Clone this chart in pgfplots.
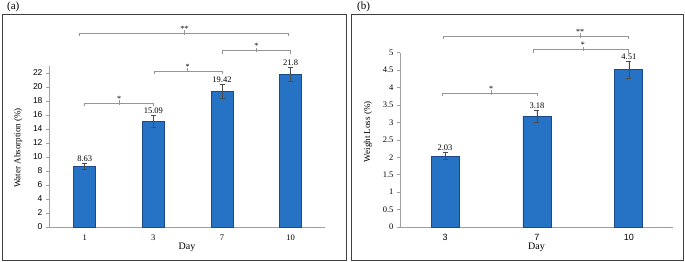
\documentclass[border=0pt]{standalone}
\usepackage{pgfplots}
\pgfplotsset{compat=1.18}
\usepackage{fontspec}
\setmainfont{Liberation Serif}
\newfontfamily\arial{Liberation Sans}
\definecolor{barblue}{RGB}{38,115,198}
\definecolor{baredge}{RGB}{28,72,140}
\definecolor{brk}{RGB}{150,150,150}
\definecolor{axgray}{RGB}{160,160,160}
\newcommand\bracket[5]{%
  \draw[brk, line width=0.6pt] ([yshift=-3pt]axis cs:#1,#3) -- (axis cs:#1,#3) -- (axis cs:#2,#3) -- ([yshift=-3pt]axis cs:#2,#3);
  \draw[brk, line width=0.6pt] ([yshift=-1.5pt]axis cs:#4,#3) -- ([yshift=3pt]axis cs:#4,#3);
  \node[anchor=south, inner sep=0pt, font=\fontsize{8}{8}\selectfont] at ([yshift=1.5pt]axis cs:#4,#3) {#5};}

\pgfplotsset{
  panel/.style={
    scale only axis,
    axis x line=bottom, axis y line=left,
    axis line style={-, draw=axgray, line width=0.7pt},
    ymin=0,
    xtick=data,
    x tick style={draw=none},
    y tick style={draw=axgray, line width=0.6pt},
    major tick length=3pt,
    tick align=outside,
    clip=false,
    /pgf/number format/assume math mode=true,
    ybar, bar shift=0pt,
    xlabel={Day},
    xlabel style={at={(axis description cs:0.5,0)}, anchor=center, yshift=-20pt, font=\fontsize{10}{11}\selectfont},
  },
  barstyle/.style={fill=barblue, draw=baredge, line width=0.8pt,
    error bars/.cd, y dir=both, y explicit,
    error bar style={black!70, line width=0.6pt},
    error mark options={rotate=90, mark size=2.5pt, black!70, line width=0.6pt}},
}

\begin{document}
\begin{tikzpicture}[x=1pt,y=1pt]
\useasboundingbox (0,0) rectangle (685,262);
\draw[line width=0.9pt, black!75] (2.5,2) rectangle (346,247.5);
\draw[line width=0.9pt, black!75] (351,2) rectangle (683,247.5);
\node[anchor=west, inner sep=0pt, font=\fontsize{11}{12}\selectfont] at (7,255.5) {(a)};
\node[anchor=west, inner sep=0pt, font=\fontsize{11}{12}\selectfont] at (357,255.5) {(b)};

% ---------- panel (a)
\begin{axis}[panel,
  at={(49pt,35pt)}, anchor=south west,
  width=276pt, height=161pt,
  xmin=-0.52, xmax=3.5, ymax=23,
  ytick={0,2,...,22},
  bar width=22pt,
  xticklabels={1,3,7,10},
  xticklabel style={font=\fontsize{8.5}{9}\selectfont, yshift=-1pt},
  yticklabel style={font=\arial\fontsize{8.5}{9}\selectfont},
  ylabel={Water Absorption (\%)},
  ylabel style={at={(axis description cs:-0.112,0.49)}, anchor=center, font=\fontsize{9}{10}\selectfont},
]
\addplot[barstyle] table[x=x, y=y, y error=e] {
x y e
0 8.63 0.45
1 15.09 0.8
2 19.42 1.0
3 21.8 1.05
};
\node[anchor=south, inner sep=1.5pt, font=\fontsize{8.5}{9}\selectfont] at (axis cs:0,9.08) {8.63};
\node[anchor=south, inner sep=1.5pt, font=\fontsize{8.5}{9}\selectfont] at (axis cs:1,15.89) {15.09};
\node[anchor=south, inner sep=1.5pt, font=\fontsize{8.5}{9}\selectfont] at (axis cs:2,20.42) {19.42};
\node[anchor=south, inner sep=1.5pt, font=\fontsize{8.5}{9}\selectfont] at (axis cs:3,22.85) {21.8};
\bracket{0}{1}{17.7}{0.5}{*}
\bracket{1.01}{2}{22.3}{1.5}{*}
\bracket{2}{3}{25.2}{2.5}{*}
\bracket{-0.08}{2.97}{27.7}{1.45}{**}
\end{axis}

% ---------- panel (b)
\begin{axis}[panel,
  at={(400pt,35pt)}, anchor=south west,
  width=273pt, height=174.3pt,
  xmin=-0.49, xmax=2.48, ymax=5,
  ytick={0,0.5,...,5},
  bar width=28pt,
  xticklabels={3,7,10},
  xticklabel style={font=\arial\fontsize{9}{10}\selectfont, yshift=-1pt},
  yticklabel style={font=\fontsize{8.5}{9}\selectfont},
  ylabel={Weight Loss (\%)},
  ylabel style={at={(axis description cs:-0.117,0.546)}, anchor=center, font=\fontsize{9}{10}\selectfont},
]
\addplot[barstyle] table[x=x, y=y, y error=e] {
x y e
0 2.03 0.1
1 3.18 0.17
2 4.51 0.24
};
\node[anchor=south, inner sep=1.5pt, font=\fontsize{8.5}{9}\selectfont] at (axis cs:0,2.13) {2.03};
\node[anchor=south, inner sep=1.5pt, font=\fontsize{8.5}{9}\selectfont] at (axis cs:1,3.35) {3.18};
\node[anchor=south, inner sep=1.5pt, font=\fontsize{8.5}{9}\selectfont] at (axis cs:2,4.75) {4.51};
\bracket{-0.03}{1}{3.84}{0.5}{*}
\bracket{0.96}{1.99}{5.09}{1.5}{*}
\bracket{-0.02}{1.99}{5.47}{1.47}{**}
\end{axis}
\end{tikzpicture}
\end{document}
